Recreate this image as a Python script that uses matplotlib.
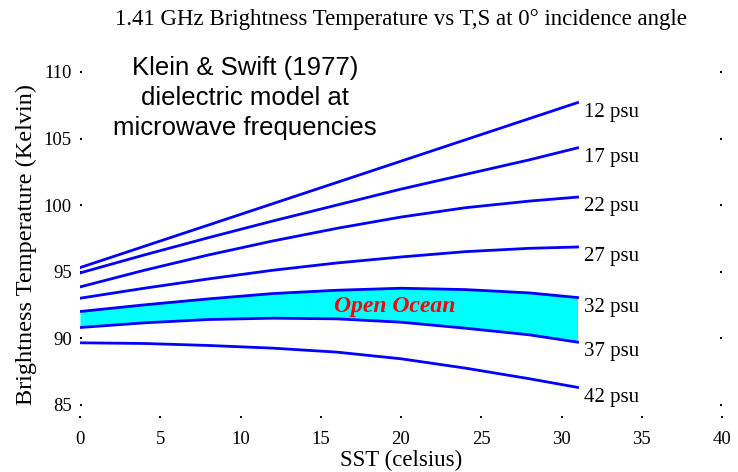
import matplotlib
matplotlib.use("Agg")
import matplotlib.pyplot as plt

# sea surface temperature (celsius) where each curve was sampled
sst = [0, 4, 8, 12, 16, 20, 24, 28, 31]

# brightness temperature (Kelvin) for each salinity
tb_12 = [95.3, 96.9, 98.5, 100.1, 101.7, 103.3, 104.9, 106.5, 107.7]
tb_17 = [94.9, 96.25, 97.55, 98.8, 100.0, 101.2, 102.3, 103.4, 104.3]
tb_22 = [93.85, 95.1, 96.25, 97.3, 98.25, 99.1, 99.8, 100.3, 100.6]
tb_27 = [93.0, 93.75, 94.45, 95.1, 95.65, 96.1, 96.5, 96.75, 96.85]
tb_32 = [92.0, 92.5, 92.95, 93.35, 93.6, 93.75, 93.65, 93.4, 93.05]
tb_37 = [90.8, 91.15, 91.4, 91.5, 91.45, 91.2, 90.75, 90.25, 89.7]
tb_42 = [89.65, 89.6, 89.45, 89.25, 88.95, 88.45, 87.75, 86.95, 86.3]

salinities = ["12 psu", "17 psu", "22 psu", "27 psu", "32 psu", "37 psu", "42 psu"]
curves = [tb_12, tb_17, tb_22, tb_27, tb_32, tb_37, tb_42]

xticks = [0, 5, 10, 15, 20, 25, 30, 35, 40]
yticks = [85, 90, 95, 100, 105, 110]

serif = "Liberation Serif"

fig = plt.figure(figsize=(7.38, 4.72), dpi=100)
ax = fig.add_axes([80 / 738, 1 - 418 / 472, 642 / 738, 346 / 472])

# open ocean band between 32 and 37 psu
ax.fill_between(sst, tb_37, tb_32, color="#00FFFF", lw=0)

for name, tb in zip(salinities, curves):
    ax.plot(sst, tb, color="#0000FF", lw=2.0)
    ax.annotate(name, (sst[-1], tb[-1]), xytext=(5, -7), textcoords="offset points",
                ha="left", va="center", fontsize=15, family=serif)

ax.text(19.6, 92.4, "Open Ocean", color="red", fontsize=17, family=serif,
        fontweight="bold", fontstyle="italic", ha="center", va="center")

ax.set_xlim(0, 40)
ax.set_ylim(84, 110)
ax.set_xticks(xticks)
ax.set_yticks(yticks)
ax.set_xticklabels([str(t) for t in xticks], family=serif, fontsize=13.5)
ax.set_yticklabels([str(t) for t in yticks], family=serif, fontsize=13.5)
ax.tick_params(axis="x", direction="in", length=1.2, width=1.4, pad=9)
ax.tick_params(axis="y", direction="in", length=1.2, width=1.4, pad=6, right=True)
for s in ax.spines.values():
    s.set_visible(False)

ax.set_xlabel("SST (celsius)", family=serif, fontsize=16.5, labelpad=2)
ax.set_ylabel("Brightness Temperature (Kelvin)", family=serif, fontsize=17.5, labelpad=5)
ax.set_title("1.41 GHz Brightness Temperature vs T,S at 0\u00b0 incidence angle",
             family=serif, fontsize=16.5, pad=34)

fig.text(245 / 738, 1 - 98 / 472,
         "Klein & Swift (1977)\ndielectric model at\nmicrowave frequencies",
         family="Liberation Sans", fontsize=18.5, ha="center", va="center",
         linespacing=1.3)

fig.savefig("out.png", dpi=100)
